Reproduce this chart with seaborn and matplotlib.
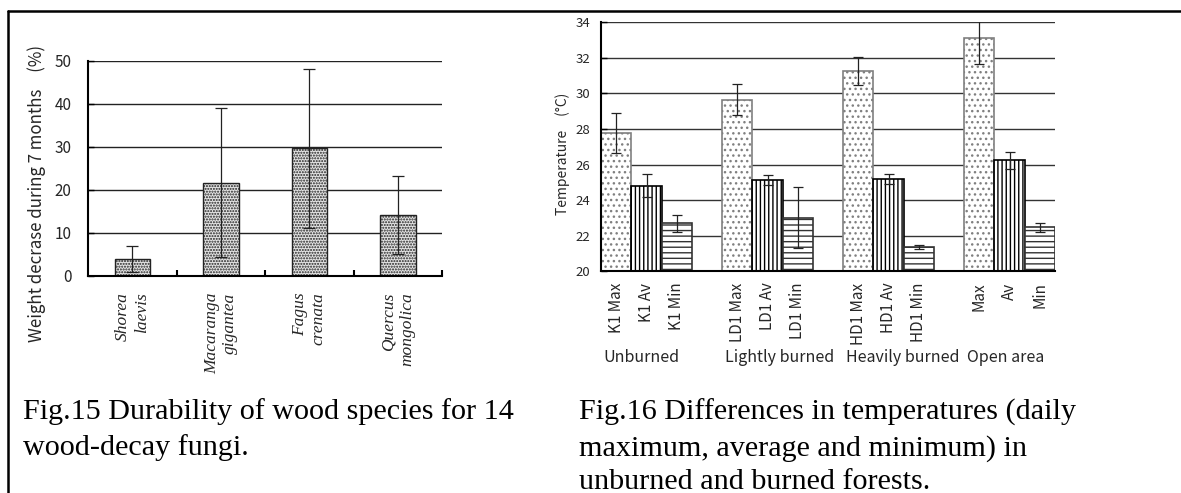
import numpy as np
import pandas as pd
import matplotlib
matplotlib.use("Agg")
import matplotlib.pyplot as plt
import seaborn as sns
from matplotlib.lines import Line2D

# ---------------- data: Fig.15 ----------------
species = ["Shorea\nlaevis", "Macaranga\ngigantea", "Fagus\ncrenata", "Quercus\nmongolica"]
weight_loss = [3.8, 21.6, 29.6, 14.1]
weight_err = [3.0, 17.3, 18.4, 9.1]

# ---------------- data: Fig.16 ----------------
groups = ["Unburned", "Lightly burned", "Heavily burned", "Open area"]
bar_labels = ["K1 Max", "K1 Av", "K1 Min",
              "LD1 Max", "LD1 Av", "LD1 Min",
              "HD1 Max", "HD1 Av", "HD1 Min",
              "Max", "Av", "Min"]
bar_kind = ["Max", "Av", "Min"] * 4
temp_mean = [27.77, 24.82, 22.70,
             29.64, 25.14, 23.02,
             31.25, 25.18, 21.39,
             33.12, 26.25, 22.48]
temp_err = [1.14, 0.64, 0.49,
            0.87, 0.30, 1.70,
            0.80, 0.28, 0.12,
            1.48, 0.48, 0.26]
temp_ticks = [20, 22, 24, 26, 28, 30, 32, 34]

sns.set_theme(style="white")
plt.rcParams["font.family"] = ["Noto Sans CJK JP", "DejaVu Sans"]
plt.rcParams["hatch.linewidth"] = 1.0

fig = plt.figure(figsize=(11.81, 4.93), dpi=100)

# ================= Fig.15 =================
ax1 = fig.add_axes([0.0747, 0.4408, 0.2996, 0.4361])
df1 = pd.DataFrame({"species": species, "loss": weight_loss})
sns.barplot(data=df1, x="species", y="loss", order=species, ax=ax1,
            color="#e4e4e4", saturation=1, width=0.4, edgecolor="#222222",
            linewidth=1.0, hatch="......", errorbar=None, zorder=2)
ax1.errorbar(np.arange(len(species)), weight_loss, yerr=weight_err, fmt="none",
             ecolor="#222222", elinewidth=0.9, capsize=4, capthick=0.9, zorder=3)
ax1.set_ylim(0, 50)
ax1.set_xlim(-0.5, 3.5)
ax1.set_yticks([0, 10, 20, 30, 40, 50])
ax1.yaxis.grid(True, color="#222222", linewidth=1.0)
ax1.set_axisbelow(True)
for s in ["top", "right"]:
    ax1.spines[s].set_visible(False)
for s in ["left", "bottom"]:
    ax1.spines[s].set_color("black")
    ax1.spines[s].set_linewidth(1.5)
ax1.set_xticks(np.arange(len(species)))
ax1.set_xticks(np.arange(len(species)) + 0.5, minor=True)
ax1.tick_params(axis="x", which="major", length=0, pad=12)
ax1.tick_params(axis="x", which="minor", direction="in", length=4, width=1.5, color="black", bottom=True)
ax1.tick_params(axis="y", direction="in", length=4, width=1, color="black", left=True, labelsize=11, pad=12)
ax1.set_xticklabels(species, rotation=90, fontfamily="Liberation Serif", style="italic",
                    fontsize=12.5, va="top", ha="center", multialignment="right",
                    linespacing=1.2)
ax1.set_xlabel("")
ax1.set_ylabel("Weight decrase during 7 months\u3000(%)", fontsize=12.2)
ax1.yaxis.set_label_coords(-0.118, 0.38)

# ================= Fig.16 =================
ax2 = fig.add_axes([0.5091, 0.4493, 0.3842, 0.5055])
slots = []
gap_names = [" ", "  ", "   "]
for gi in range(4):
    slots += bar_labels[gi * 3:gi * 3 + 3]
    if gi < 3:
        slots.append(gap_names[gi])
df2 = pd.DataFrame({"label": bar_labels, "kind": bar_kind, "temp": temp_mean, "err": temp_err})

styles = {"Max": dict(hatch="...", edgecolor="#808080"),
          "Av": dict(hatch="||||", edgecolor="black"),
          "Min": dict(hatch="---", edgecolor="#333333")}
for kind, st in styles.items():
    sub = df2[df2["kind"] == kind]
    sns.barplot(data=sub, x="label", y="temp", order=slots, ax=ax2, color="white",
                saturation=1, width=1.0, linewidth=1.2, errorbar=None, zorder=2, **st)

xpos = [slots.index(l) for l in bar_labels]
ax2.errorbar(xpos, temp_mean, yerr=temp_err, fmt="none", ecolor="#222222",
             elinewidth=0.9, capsize=3.5, capthick=0.9, zorder=3)
ax2.set_ylim(20, 34)
ax2.set_xlim(-0.5, len(slots) - 0.5)
ax2.set_yticks(temp_ticks)
ax2.yaxis.grid(True, color="#333333", linewidth=1.0)
ax2.set_axisbelow(True)
for s in ["top", "right"]:
    ax2.spines[s].set_visible(False)
for s in ["left", "bottom"]:
    ax2.spines[s].set_color("black")
    ax2.spines[s].set_linewidth(1.5)
ax2.set_xticks(xpos)
ax2.set_xticklabels(bar_labels, rotation=90, fontsize=11, va="top", ha="center")
ax2.tick_params(axis="x", length=0, pad=8)
ax2.tick_params(axis="y", direction="in", length=4, width=1, color="black", left=True, labelsize=9.5, pad=8)
ax2.set_xlabel("")
ax2.set_ylabel("Temperature\u3000(°C)", fontsize=10)
ax2.yaxis.set_label_coords(-0.068, 0.473)

# group labels under the rotated tick labels
for gi, g in enumerate(groups):
    xd = slots.index(bar_labels[gi * 3]) - 0.5
    xf = ax2.transData.transform((xd, 20))[0] / fig.bbox.width + 0.002
    fig.text(xf, 1 - 358 / 493, g, fontsize=11.5, va="center", ha="left")

# ================= captions =================
cap_font = dict(fontfamily="Liberation Serif", fontsize=21.7, color="black", va="baseline", ha="left")
fig.text(23 / 1181, 1 - 419 / 493, "Fig.15 Durability of wood species for 14", **cap_font)
fig.text(23 / 1181, 1 - 455 / 493, "wood-decay fungi.", **cap_font)
fig.text(579 / 1181, 1 - 420 / 493, "Fig.16 Differences in temperatures (daily", **cap_font)
fig.text(579 / 1181, 1 - 456 / 493, "maximum, average and minimum) in", **cap_font)
fig.text(579 / 1181, 1 - 489 / 493, "unburned and burned forests.", **cap_font)

# ================= frame =================
fig.add_artist(Line2D([8 / 1181, 1.0], [1 - 11 / 493, 1 - 11 / 493], transform=fig.transFigure,
                      color="black", linewidth=1.8))
fig.add_artist(Line2D([8 / 1181, 8 / 1181], [1 - 11 / 493, 0.0], transform=fig.transFigure,
                      color="black", linewidth=1.8))

fig.savefig("out.png", dpi=100, facecolor="white")
